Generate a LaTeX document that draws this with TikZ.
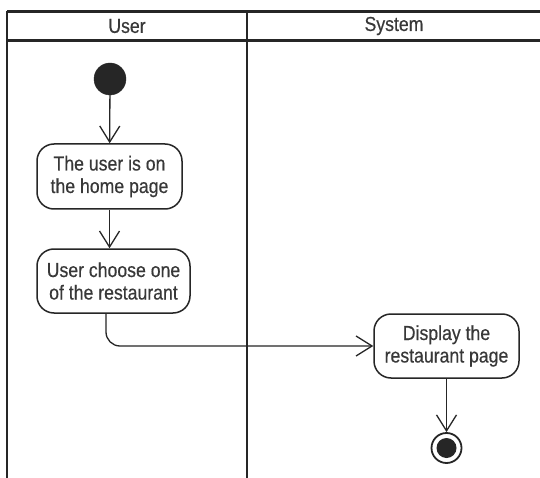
\documentclass[tikz,border=0pt]{standalone}
\usepackage{fontspec}
\setmainfont{Liberation Sans}[FakeStretch=0.87, FakeBold=0.35]
\usetikzlibrary{arrows.meta}
\definecolor{ink}{HTML}{262626}
\definecolor{txt}{HTML}{383838}
\tikzset{
  lane/.style={draw=ink, line width=2.4pt},
  action/.style={draw=ink, line width=1.5pt, rounded corners=17pt, fill=white,
    align=center, text=txt, inner sep=0pt,
    font=\fontsize{20.3pt}{22.5pt}\selectfont},
  lanetitle/.style={text=txt, font=\fontsize{20.3pt}{22.5pt}\selectfont},
  flow/.style={draw=ink, line width=1.3pt,
    -{Straight Barb[length=16pt,width=20pt,line width=1.3pt]}},
}
\begin{document}
\begin{tikzpicture}[x=1pt,y=1pt]
  \useasboundingbox (0,0) rectangle (540,-478);
  \fill[white] (0,0) rectangle (540,-478);

  % swimlane frame
  \draw[lane] (7,-11.5) -- (541,-11.5);
  \draw[lane, line width=3pt] (7,-40.5) -- (541,-40.5);
  \draw[lane] (7,-11.5) -- (7,-479);
  \draw[lane] (247,-11.5) -- (247,-479);
  \node[lanetitle] (tUser) at (127,-26) {User};
  \node[lanetitle] (tSystem) at (394,-26) {System};

  % initial node
  \node[circle, fill=ink, draw=ink, minimum size=32pt, inner sep=0pt] (start) at (110,-79) {};

  % actions
  \node[action, minimum width=145pt, minimum height=65pt] (home) at (109.5,-176.5)
    {The user is on\\the home page};
  \node[action, minimum width=153pt, minimum height=64pt] (choose) at (113.5,-281)
    {User choose one\\of the restaurant};
  \node[action, minimum width=145pt, minimum height=64pt] (display) at (446.5,-346)
    {Display the\\restaurant page};

  % final node
  \node[circle, draw=ink, line width=1.8pt, fill=white, minimum size=30pt, inner sep=0pt] (final) at (446.5,-448) {};
  \node[circle, fill=ink, minimum size=20pt, inner sep=0pt] (finaldot) at (final.center) {};

  % control flow
  \draw[flow] (start) -- (home);
  \draw[flow] (home.south) -- (home.south |- choose.north);
  \draw[flow, rounded corners=14pt] ([xshift=-7.5pt]choose.south) |- (display.west);
  \draw[flow] (display) -- (final);
\end{tikzpicture}
\end{document}
